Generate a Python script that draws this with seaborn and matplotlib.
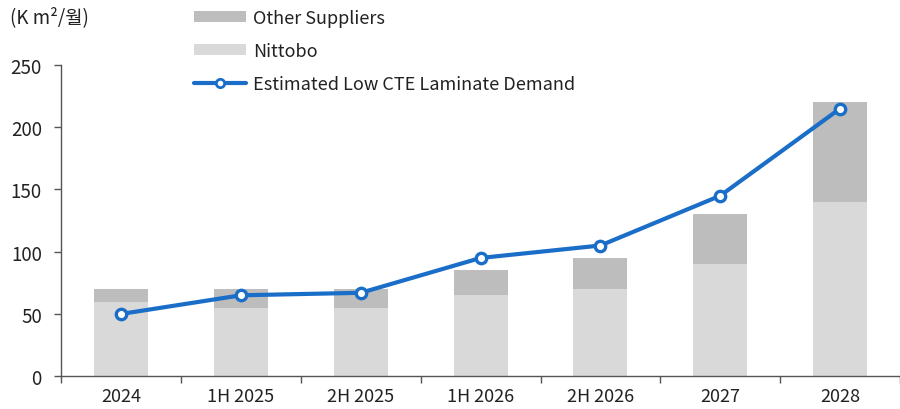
import matplotlib
matplotlib.use("Agg")
import matplotlib.pyplot as plt
from matplotlib.lines import Line2D
from matplotlib.patches import Patch
import numpy as np
import pandas as pd
import seaborn as sns

categories = ["2024", "1H 2025", "2H 2025", "1H 2026", "2H 2026", "2027", "2028"]
nittobo = [60, 55, 55, 65, 70, 90, 140]
other_suppliers = [10, 15, 15, 20, 25, 40, 80]
demand = [50, 65, 67, 95, 105, 145, 215]

C_OTHER = "#bdbdbd"
C_NITTOBO = "#d9d9d9"
C_LINE = "#1a6ec8"
C_TEXT = "#222222"

sns.set_theme(style="white")
plt.rcParams["font.family"] = ["Noto Sans CJK KR", "DejaVu Sans"]
plt.rcParams["text.color"] = C_TEXT
plt.rcParams["xtick.color"] = C_TEXT
plt.rcParams["ytick.color"] = C_TEXT

df = pd.DataFrame({
    "period": categories,
    "nittobo": nittobo,
    "total": np.array(nittobo) + np.array(other_suppliers),
    "demand": demand,
})

fig = plt.figure(figsize=(9, 4.1), dpi=100)
ax = fig.add_axes([0.068, 0.080, 0.932, 0.759])

sns.barplot(data=df, x="period", y="total", color=C_OTHER, width=0.45,
            saturation=1, linewidth=0, ax=ax)
sns.barplot(data=df, x="period", y="nittobo", color=C_NITTOBO, width=0.45,
            saturation=1, linewidth=0, ax=ax)
sns.pointplot(data=df, x="period", y="demand", color=C_LINE, markers="o",
              linewidth=3, markersize=7.5, markerfacecolor="white",
              markeredgewidth=2.4, markeredgecolor=C_LINE, ax=ax, zorder=5)

ax.set_xlim(-0.5, len(categories) - 0.5)
ax.set_ylim(0, 250)
ax.set_yticks(range(0, 251, 50))
ax.set_xlabel("")
ax.set_ylabel("")

for s in ["top", "right"]:
    ax.spines[s].set_visible(False)
for s in ["left", "bottom"]:
    ax.spines[s].set_color("#555555")
    ax.spines[s].set_linewidth(1.0)

ax.tick_params(axis="y", which="major", left=True, length=5, width=1,
               color="#555555", labelsize=13.5, pad=9)
ax.tick_params(axis="x", which="major", bottom=False, labelsize=13, pad=2)
ax.set_xticks(np.arange(-0.5, len(categories), 1.0), minor=True)
ax.tick_params(axis="x", which="minor", bottom=True, length=5, width=1,
               color="#555555")

fig.text(0.011, 0.958, "(K m²/월)", fontsize=13.5, va="center", ha="left",
         family=["Noto Sans CJK KR", "DejaVu Sans"])

handles = [
    Patch(facecolor=C_OTHER, edgecolor="none"),
    Patch(facecolor=C_NITTOBO, edgecolor="none"),
    Line2D([0], [0], color=C_LINE, lw=3, marker="o", markersize=6,
           markerfacecolor="white", markeredgecolor=C_LINE, markeredgewidth=2),
]
labels = ["Other Suppliers", "Nittobo", "Estimated Low CTE Laminate Demand"]
fig.legend(handles, labels, loc="upper left", bbox_to_anchor=(0.207, 0.993),
           frameon=False, fontsize=13, handlelength=2.9, handleheight=0.55,
           handletextpad=0.4, labelspacing=0.83, borderaxespad=0)

fig.savefig("out.png", dpi=100)
